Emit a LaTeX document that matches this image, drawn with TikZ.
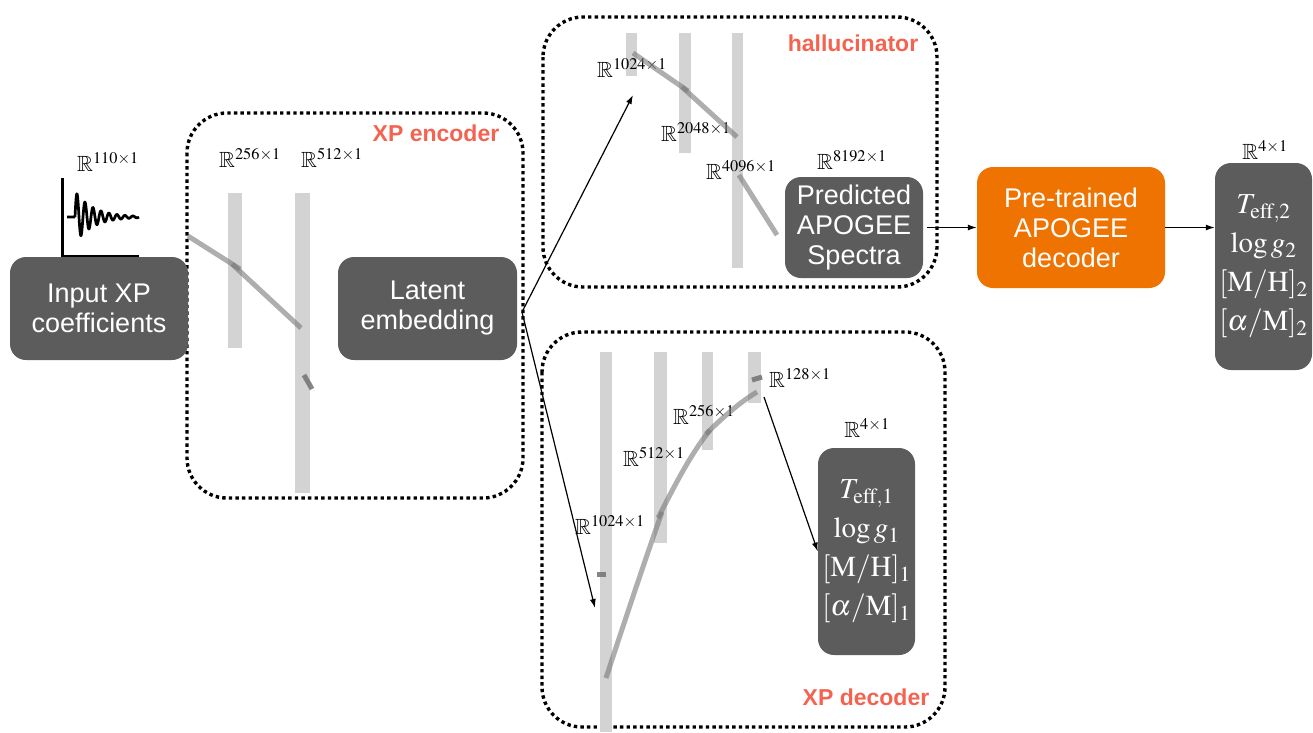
\documentclass[tikz,border=0pt]{standalone}
\usepackage{amssymb}
\usepackage{mathptmx}
\usepackage{fontspec}
\setmainfont{Liberation Serif}
\newfontfamily\sansf{Liberation Sans}
\usetikzlibrary{arrows.meta}
\definecolor{boxgray}{RGB}{92,92,92}
\definecolor{bargray}{RGB}{211,211,211}
\definecolor{linegray}{RGB}{120,120,120}
\definecolor{lblred}{RGB}{244,99,80}
\definecolor{apoorange}{RGB}{239,115,0}
\begin{document}
\begin{tikzpicture}[x=1pt,y=-1pt,
 dotbox/.style={line width=3.4pt, dash pattern=on 3.4pt off 3.2pt, rounded corners=40pt},
 darkbox/.style={fill=boxgray, rounded corners=16pt, text=white, align=center, inner sep=0pt},
 sanslbl/.style={font=\sansf\fontsize{27}{30}\selectfont},
 seriflbl/.style={font=\fontsize{29}{39}\selectfont},
 dimlbl/.style={font=\fontsize{22}{24}\selectfont, inner sep=0pt},
 grouplbl/.style={font=\sansf\bfseries\fontsize{23}{24}\selectfont, text=lblred, inner sep=0pt},
 bar/.style={fill=bargray},
 wline/.style={draw=linegray, line width=5pt, opacity=0.6},
 wdash/.style={draw=linegray, line width=5pt, opacity=0.9},
 arr/.style={-{Latex[length=9pt,width=6pt]}, line width=1.2pt}
]
\useasboundingbox (0,0) rectangle (1313,732);

% ---------- dotted group boxes ----------
\draw[dotbox] (187,113) rectangle (523,498);
\draw[dotbox] (543,17) rectangle (937,287);
\draw[dotbox] (542,332) rectangle (945,727);

\node[grouplbl] (encl) at (436,133) {XP encoder};
\node[grouplbl] (hall) at (853,43) {hallucinator};
\node[grouplbl] (decl) at (866,697) {XP decoder};

% ---------- input icon ----------
\draw[line width=3pt] (62,178) -- (62,256) -- (139,256);
\draw[line width=2.7pt, line join=round] (67,217) -- (75,217)
  plot[domain=0:64, samples=220] (75+\x,{217 - 26*exp(-\x/18)*sin(\x*45)});
\node[dimlbl] (d110) at (108,162) {$\mathbb{R}^{110\times1}$};

% ---------- encoder layers ----------
\fill[bar] (228,193) rectangle (242,348);
\fill[bar] (295,193) rectangle (310,493);
\node[dimlbl] (d256e) at (250,158) {$\mathbb{R}^{256\times1}$};
\node[dimlbl] (d512e) at (332,158) {$\mathbb{R}^{512\times1}$};
\draw[wline] (188,236) -- (240,269);
\draw[wline] (232,264) -- (301,328);
\draw[wdash] (304,375) -- (312,389);

% ---------- hallucinator layers ----------
\fill[bar] (626,33) rectangle (637,76);
\fill[bar] (679,33) rectangle (691,153);
\fill[bar] (732,33) rectangle (743,268);
\node[dimlbl] (d1024h) at (632,68) {$\mathbb{R}^{1024\times1}$};
\node[dimlbl] (d2048h) at (696,132) {$\mathbb{R}^{2048\times1}$};
\node[dimlbl] (d4096h) at (741,170) {$\mathbb{R}^{4096\times1}$};
\node[dimlbl] (d8192h) at (852,160) {$\mathbb{R}^{8192\times1}$};
\draw[wline] (633,53) -- (688,91);
\draw[wline] (682,87) -- (737,137);
\draw[wline] (739,175) -- (777,235);

% ---------- decoder layers ----------
\fill[bar] (600,352) rectangle (612,732);
\fill[bar] (654,352) rectangle (667,543);
\fill[bar] (702,352) rectangle (713,450);
\fill[bar] (748,352) rectangle (761,403);
\node[dimlbl] (d128d) at (800,378) {$\mathbb{R}^{128\times1}$};
\node[dimlbl] (d256d) at (704,415) {$\mathbb{R}^{256\times1}$};
\node[dimlbl] (d512d) at (654,457) {$\mathbb{R}^{512\times1}$};
\node[dimlbl] (d1024d) at (610,525) {$\mathbb{R}^{1024\times1}$};
\node[dimlbl] (d4d) at (867,428) {$\mathbb{R}^{4\times1}$};
\draw[wline] (606,678) .. controls (625,620) and (645,560) .. (662,512);
\draw[wline] (658,518) .. controls (675,485) and (690,455) .. (710,430);
\draw[wline] (706,434) .. controls (722,418) and (740,402) .. (757,392);
\draw[wdash] (752,380) -- (762,377);
\draw[wdash] (597,574) -- (606,574);

% ---------- main boxes ----------
\node[darkbox, sanslbl, minimum width=178pt, minimum height=103pt] (inp) at (99,308.5) {Input XP\\coefficients};
\node[darkbox, sanslbl, minimum width=179pt, minimum height=103pt] (lat) at (427.5,308.5) {Latent\\embedding};
\node[darkbox, sanslbl, minimum width=138pt, minimum height=101pt] (pred) at (854,227.5) {Predicted\\APOGEE\\Spectra};
\node[darkbox, sanslbl, fill=apoorange, minimum width=188pt, minimum height=121pt] (apo) at (1071,227.5) {Pre-trained\\APOGEE\\decoder};
\node[darkbox, seriflbl, minimum width=97pt, minimum height=207pt] (out1) at (866.5,551.5)
  {$T_{\mathrm{eff},1}$\\$\log g_1$\\$[\mathrm{M/H}]_1$\\$[\alpha/\mathrm{M}]_1$};
\node[darkbox, seriflbl, minimum width=97pt, minimum height=207pt] (out2) at (1263.5,266.5)
  {$T_{\mathrm{eff},2}$\\$\log g_2$\\$[\mathrm{M/H}]_2$\\$[\alpha/\mathrm{M}]_2$};
\node[dimlbl] (d4o) at (1265,150) {$\mathbb{R}^{4\times1}$};

% ---------- connectors ----------
\coordinate (split) at (522,312);
\coordinate (hin) at (633,95);
\coordinate (din) at (595,608);
\coordinate (dtop) at (764,397);
\draw[arr] (split) -- (hin);
\draw[arr] (split) -- (din);
\draw[arr] (dtop) -- (out1.west);
\draw[arr] ([xshift=4pt]pred.east) -- (apo.west);
\draw[arr] (apo.east) -- (apo.east -| out2.west);
\end{tikzpicture}
\end{document}
